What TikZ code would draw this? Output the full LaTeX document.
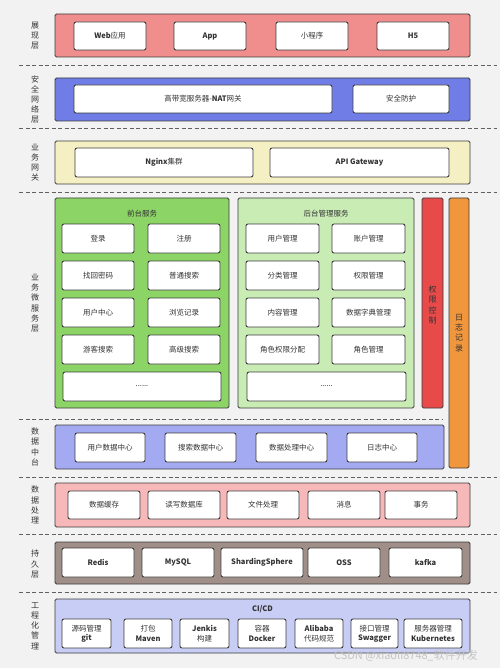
\documentclass[tikz,border=0pt]{standalone}
\usepackage{fontspec}
\setmainfont{Noto Sans CJK SC}
\definecolor{bg}{HTML}{F2F2F2}
\definecolor{bd}{HTML}{3C3C3C}
\definecolor{tx}{HTML}{333333}
\definecolor{dl}{HTML}{606060}
\definecolor{c1}{HTML}{F08E8E}
\definecolor{c2}{HTML}{707DE6}
\definecolor{c3}{HTML}{F5F0C4}
\definecolor{cfront}{HTML}{8CD466}
\definecolor{cback}{HTML}{C9ECB5}
\definecolor{cred}{HTML}{E84A4A}
\definecolor{corg}{HTML}{F0963C}
\definecolor{c5}{HTML}{A4AAF2}
\definecolor{c6}{HTML}{F6B8B8}
\definecolor{c7}{HTML}{A08E88}
\definecolor{c8}{HTML}{C8CDF5}
\definecolor{wm}{HTML}{C4C4C4}
\newcommand\fsb{\fontsize{7.5}{9.5}\selectfont}
\newcommand\fsl{\fontsize{8}{10.2}\selectfont}
\newcommand\bx[7]{\node[#6, anchor=north west, minimum width={(#4-#2)*1pt}, minimum height={(#5-#3)*1pt}] (#1) at (#2,#3) {#7};}
\begin{document}
\begin{tikzpicture}[x=1pt,y=-1pt,
  lay/.style={draw=bd, line width=0.9pt, rounded corners=1.5pt, inner sep=0pt, outer sep=0pt},
  ib/.style={fill=white, draw=bd, line width=0.9pt, rounded corners=2pt, inner sep=0pt, outer sep=0pt, font=\fsb, text=tx, align=center},
  side/.style={font=\fsl, text=tx, align=center, inner sep=0pt},
  ttl/.style={font=\fsb, text=tx, inner sep=0pt},
  sep/.style={draw=dl, line width=0.8pt, dash pattern=on 4pt off 2.5pt}]
\fill[bg] (0,0) rectangle (500,668);
\useasboundingbox (0,0) rectangle (500,668);
% separators
\foreach \n/\y/\xe in {1/65/497,2/128/497,3/192/497,4/419/443,5/477/497,6/534/497,7/592/497}{
  \coordinate (sa\n) at (19,\y); \coordinate (sb\n) at (\xe,\y);
  \draw[sep] (sa\n) -- (sb\n);}
% layer 1
\bx{L1}{55}{14}{470}{57}{lay,fill=c1}{}
\node[side] (s1) at (35,35.5) {展\\现\\层};
\bx{a1}{74}{22}{146}{50}{ib}{\textbf{Web}应用}
\bx{a2}{174}{22}{246}{50}{ib}{\textbf{App}}
\bx{a3}{276}{22}{348}{50}{ib}{小程序}
\bx{a4}{377}{22}{449}{50}{ib}{\textbf{H5}}
% layer 2
\bx{L2}{55}{78}{470}{121}{lay,fill=c2}{}
\node[side] (s2) at (35,99.5) {安\\全\\网\\络\\层};
\bx{b1}{74}{85}{332}{113}{ib}{高带宽服务器-\textbf{NAT}网关}
\bx{b2}{353}{85}{449}{113}{ib}{安全防护}
% layer 3
\bx{L3}{55}{141}{470}{184}{lay,fill=c3}{}
\node[side] (s3) at (35,162.5) {业\\务\\网\\关};
\bx{g1}{75}{148}{253}{177}{ib}{\textbf{Nginx}集群}
\bx{g2}{270}{148}{449}{177}{ib}{\textbf{API Gateway}}
% layer 4 micro services
\node[side] (s4) at (35,303) {业\\务\\微\\服\\务\\层};
\bx{F}{55}{198}{229}{408}{lay,fill=cfront}{}
\bx{B}{238}{198}{414}{408}{lay,fill=cback}{}
\bx{R}{422}{198}{443}{408}{lay,fill=cred}{}
\bx{O}{449}{198}{469}{468}{lay,fill=corg}{}
\node[side] (rt) at (432.5,305) {权\\限\\控\\制};
\node[side] (ot) at (459,333) {日\\志\\记\\录};
\node[ttl] (ft) at (142,214) {前台服务};
\node[ttl] (bt) at (326,214) {后台管理服务};
\bx{f11}{62}{224}{134}{253}{ib}{登录}
\bx{f12}{148}{224}{220}{253}{ib}{注册}
\bx{f21}{62}{261}{134}{290}{ib}{找回密码}
\bx{f22}{148}{261}{220}{290}{ib}{普通搜索}
\bx{f31}{62}{298}{134}{327}{ib}{用户中心}
\bx{f32}{148}{298}{220}{327}{ib}{浏览记录}
\bx{f41}{62}{335}{134}{364}{ib}{游客搜索}
\bx{f42}{148}{335}{220}{364}{ib}{高级搜索}
\bx{f5}{63}{372}{221}{401}{ib}{......}
\bx{k11}{246}{224}{319}{253}{ib}{用户管理}
\bx{k12}{332}{224}{405}{253}{ib}{账户管理}
\bx{k21}{246}{261}{319}{290}{ib}{分类管理}
\bx{k22}{332}{261}{405}{290}{ib}{权限管理}
\bx{k31}{246}{298}{319}{327}{ib}{内容管理}
\bx{k32}{332}{298}{405}{327}{ib}{数据字典管理}
\bx{k41}{246}{335}{319}{364}{ib}{角色权限分配}
\bx{k42}{332}{335}{405}{364}{ib}{角色管理}
\bx{k5}{247}{372}{406}{401}{ib}{......}
% layer 5
\bx{L5}{55}{425}{444}{469}{lay,fill=c5}{}
\node[side] (s5) at (35,447) {数\\据\\中\\台};
\bx{d1}{75}{433}{145}{462}{ib}{用户数据中心}
\bx{d2}{165}{433}{236}{462}{ib}{搜索数据中心}
\bx{d3}{256}{433}{327}{462}{ib}{数据处理中心}
\bx{d4}{347}{433}{417}{462}{ib}{日志中心}
% layer 6
\bx{L6}{55}{483}{470}{527}{lay,fill=c6}{}
\node[side] (s6) at (35,505) {数\\据\\处\\理};
\bx{e1}{68}{491}{140}{519}{ib}{数据缓存}
\bx{e2}{148}{491}{220}{519}{ib}{读写数据库}
\bx{e3}{227}{491}{299}{519}{ib}{文件处理}
\bx{e4}{308}{491}{380}{519}{ib}{消息}
\bx{e5}{385}{491}{457}{519}{ib}{事务}
% layer 7
\bx{L7}{55}{542}{470}{584}{lay,fill=c7}{}
\node[side] (s7) at (35,564) {持\\久\\层};
\bx{p1}{62}{548}{134}{577}{ib}{\textbf{Redis}}
\bx{p2}{142}{548}{214}{577}{ib}{\textbf{MySQL}}
\bx{p3}{221}{548}{303}{577}{ib}{\textbf{ShardingSphere}}
\bx{p4}{308}{548}{380}{577}{ib}{\textbf{OSS}}
\bx{p5}{389}{548}{462}{577}{ib}{\textbf{kafka}}
% layer 8
\bx{L8}{55}{599}{470}{653}{lay,fill=c8}{}
\node[side] (s8) at (35,626) {工\\程\\化\\管\\理};
\node[ttl] (ci) at (262.5,609) {\textbf{CI/CD}};
\bx{q1}{62}{619}{111}{648}{ib}{源码管理\\\textbf{git}}
\bx{q2}{124}{619}{172}{648}{ib}{打包\\\textbf{Maven}}
\bx{q3}{180}{619}{229}{648}{ib}{\textbf{Jenkis}\\构建}
\bx{q4}{238}{619}{286}{648}{ib}{容器\\\textbf{Docker}}
\bx{q5}{295}{619}{343}{648}{ib}{\textbf{Alibaba}\\代码规范}
\bx{q6}{351}{619}{398}{648}{ib}{接口管理\\\textbf{Swagger}}
\bx{q7}{404}{619}{462}{648}{ib}{服务器管理\\\textbf{Kubernetes}}
% watermark
\node[text=wm, font=\fontsize{11}{13}\selectfont, inner sep=0pt] (wmk) at (406,656) {CSDN @xiaoli8748\_软件开发};
\end{tikzpicture}
\end{document}
